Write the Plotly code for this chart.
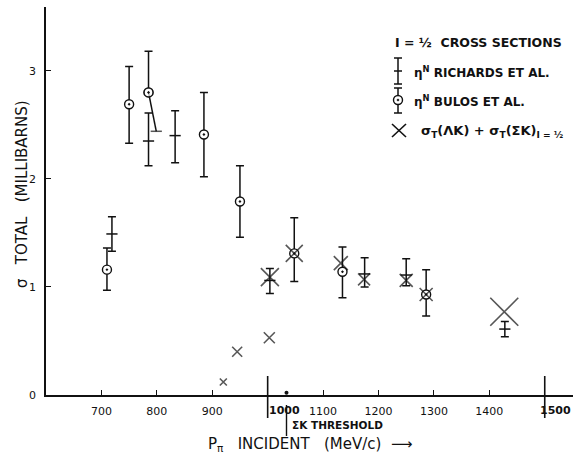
import plotly.graph_objects as go

# ---------------- data ----------------
# Richards et al. (eta N)
rich_x = [719, 785, 833, 1004, 1175, 1250, 1428]
rich_y = [1.49, 2.35, 2.40, 1.06, 1.12, 1.11, 0.61]
rich_up = [0.16, 0.26, 0.23, 0.11, 0.15, 0.15, 0.07]
rich_dn = [0.16, 0.23, 0.25, 0.12, 0.12, 0.10, 0.07]

# Bulos et al. (eta N)
bul_x = [710, 750, 785, 885, 950, 1048, 1135, 1286]
bul_y = [1.16, 2.69, 2.80, 2.41, 1.79, 1.31, 1.14, 0.93]
bul_up = [0.20, 0.35, 0.38, 0.39, 0.33, 0.33, 0.23, 0.23]
bul_dn = [0.19, 0.36, 0.00, 0.39, 0.33, 0.26, 0.24, 0.20]
# offset (slanted) lower error of the 785 point
bul_slant_x = [785, 799]
bul_slant_y = [2.80, 2.44]

# sigma_T(Lambda K) + sigma_T(Sigma K), I = 1/2
sum_x = [920, 945, 1003, 1004, 1048, 1132, 1174, 1250, 1286, 1427]
sum_y = [0.12, 0.40, 0.53, 1.09, 1.31, 1.22, 1.07, 1.06, 0.93, 0.77]
sum_size = [7, 10, 11, 18, 17, 14, 12, 13, 13, 28]

# axis ticks
x_ticks = [700, 800, 900, 1000, 1100, 1200, 1300, 1400, 1500]
x_ticklabels = ["700", "800", "900", "", "1100", "1200", "1300", "1400", ""]
x_long_ticks = [1000, 1500]
y_ticks = [0, 1, 2, 3]
y_ticklabels = ["0", "1", "2", "3"]
threshold_x = [1034]
label_1000_x = 1031
label_1500_x = 1519

# ---------------- helpers (pixel -> paper) ----------------
L, R, T, B = 46, 573, 7, 395
def px(p):
    return (p - L) / (R - L)
def py(p):
    return (B - p) / (B - T)

BLACK = "#111111"
FONT = "DejaVu Sans"
S = "\u00a0"

fig = go.Figure()

fig.add_trace(go.Scatter(
    x=rich_x, y=rich_y, mode="markers",
    marker=dict(symbol="line-ew", size=8, color=BLACK, line=dict(width=1.5, color=BLACK)),
    error_y=dict(type="data", symmetric=False, array=rich_up, arrayminus=rich_dn,
                 color=BLACK, thickness=1.5, width=4),
    showlegend=False, hoverinfo="skip"))

fig.add_trace(go.Scatter(
    x=bul_x, y=bul_y, mode="markers",
    marker=dict(symbol="circle-dot", size=9, color="white",
                line=dict(width=1.4, color=BLACK)),
    error_y=dict(type="data", symmetric=False, array=bul_up, arrayminus=bul_dn,
                 color=BLACK, thickness=1.5, width=4),
    showlegend=False, hoverinfo="skip"))

fig.add_trace(go.Scatter(
    x=bul_slant_x, y=bul_slant_y, mode="lines+markers",
    line=dict(color=BLACK, width=1.5),
    marker=dict(symbol=["circle-dot", "line-ew"], size=[9, 8], color="white",
                line=dict(width=1.5, color=BLACK)),
    showlegend=False, hoverinfo="skip"))

fig.add_trace(go.Scatter(
    x=sum_x, y=sum_y, mode="markers",
    marker=dict(symbol="x-thin", size=sum_size, color=BLACK,
                line=dict(width=1.6, color=BLACK)),
    showlegend=False, hoverinfo="skip"))

# threshold marker at the axis
fig.add_trace(go.Scatter(
    x=threshold_x, y=[0.02], mode="markers",
    marker=dict(symbol="circle", size=4, color=BLACK),
    showlegend=False, hoverinfo="skip", cliponaxis=False))

shapes = []
# long ticks at 1000 and 1500
for xv in x_long_ticks:
    shapes.append(dict(type="line", xref="x", yref="paper", x0=xv, x1=xv,
                       y0=py(376), y1=py(418), line=dict(color=BLACK, width=1.6)))
# threshold line
shapes.append(dict(type="line", xref="x", yref="paper", x0=threshold_x[0], x1=threshold_x[0],
                   y0=py(405), y1=py(436), line=dict(color=BLACK, width=1.4)))

# legend symbols (drawn in paper space)
def vbar(xp, y0p, y1p, mid=None):
    s = [dict(type="line", xref="paper", yref="paper", x0=px(xp), x1=px(xp),
              y0=py(y0p), y1=py(y1p), line=dict(color=BLACK, width=1.5))]
    for yy in ([y0p, y1p] + ([mid] if mid else [])):
        s.append(dict(type="line", xref="paper", yref="paper", x0=px(xp - 4), x1=px(xp + 4),
                      y0=py(yy), y1=py(yy), line=dict(color=BLACK, width=1.5)))
    return s
shapes += vbar(398, 58, 84, 71)
shapes += vbar(398, 88, 113)
shapes.append(dict(type="circle", xref="paper", yref="paper",
                   x0=px(393.5), x1=px(402.5), y0=py(95.5), y1=py(104.5),
                   fillcolor="white", line=dict(color=BLACK, width=1.4)))
shapes.append(dict(type="circle", xref="paper", yref="paper",
                   x0=px(397), x1=px(399), y0=py(99), y1=py(101),
                   fillcolor=BLACK, line=dict(color=BLACK, width=0.5)))
for (a, b, c, d) in [(392, 124, 406, 137), (392, 137, 406, 124)]:
    shapes.append(dict(type="line", xref="paper", yref="paper",
                       x0=px(a), x1=px(c), y0=py(b), y1=py(d),
                       line=dict(color=BLACK, width=1.6)))

ann = []
def text(xp, yp, s, size=12, anchor="left", **kw):
    ann.append(dict(xref="paper", yref="paper", x=px(xp), y=py(yp), text=s,
                    showarrow=False, xanchor=anchor, yanchor="middle",
                    font=dict(family=FONT, size=size, color=BLACK), **kw))

text(393, 42, f"<b>I{S}={S}½{S}{S}CROSS{S}SECTIONS</b>", 12.5)
text(412, 72, f"<b>η<sup>N</sup>{S}RICHARDS{S}ET{S}AL.</b>", 12)
text(412, 101, f"<b>η<sup>N</sup>{S}BULOS{S}ET{S}AL.</b>", 12)
text(419, 131, f"<b>σ<sub>T</sub>(ΛK){S}+{S}σ<sub>T</sub>(ΣK)<sub>I{S}={S}½</sub></b>", 13)
text(290, 425, f"<b>ΣK{S}THRESHOLD</b>", 10.5)
text(310, 444, f"P<sub>π</sub>{S}{S}{S}INCIDENT{S}{S}{S}(MeV/c){S}{S}⟶", 15, anchor="center")
ann.append(dict(xref="paper", yref="paper", x=px(22), y=py(194),
                text=f"σ{S}{S}{S}TOTAL{S}{S}{S}(MILLIBARNS)", textangle=-90, showarrow=False,
                xanchor="center", yanchor="middle",
                font=dict(family=FONT, size=15, color=BLACK)))
# 1000 / 1500 labels offset from the long ticks
for xv, lab in [(label_1000_x, "1000"), (label_1500_x, "1500")]:
    ann.append(dict(xref="x", yref="paper", x=xv, y=py(410), text="<b>" + lab + "</b>",
                    showarrow=False, xanchor="center", yanchor="middle",
                    font=dict(family=FONT, size=11, color=BLACK)))

fig.update_layout(
    width=573, height=461,
    margin=dict(l=L, r=0, t=T, b=461 - B),
    paper_bgcolor="white", plot_bgcolor="white",
    shapes=shapes, annotations=ann,
    font=dict(family=FONT, color=BLACK),
    xaxis=dict(range=[600, 1551], tickvals=x_ticks, ticktext=x_ticklabels,
               ticks="inside", ticklen=5, tickwidth=1.4, tickcolor=BLACK,
               showline=True, linecolor=BLACK, linewidth=1.6, showgrid=False,
               zeroline=False, tickfont=dict(family=FONT, size=11, color=BLACK),
               ticklabelstandoff=5),
    yaxis=dict(range=[0, 3.59], tickvals=y_ticks, ticktext=y_ticklabels,
               ticks="inside", ticklen=5, tickwidth=1.4, tickcolor=BLACK,
               showline=True, linecolor=BLACK, linewidth=1.6, showgrid=False,
               zeroline=False, tickfont=dict(family=FONT, size=11, color=BLACK),
               ticklabelstandoff=6),
)
fig.update_xaxes(tickprefix="<b>", ticksuffix="</b>")
fig.update_yaxes(tickprefix="<b>", ticksuffix="</b>")

fig.write_html("out.html")
